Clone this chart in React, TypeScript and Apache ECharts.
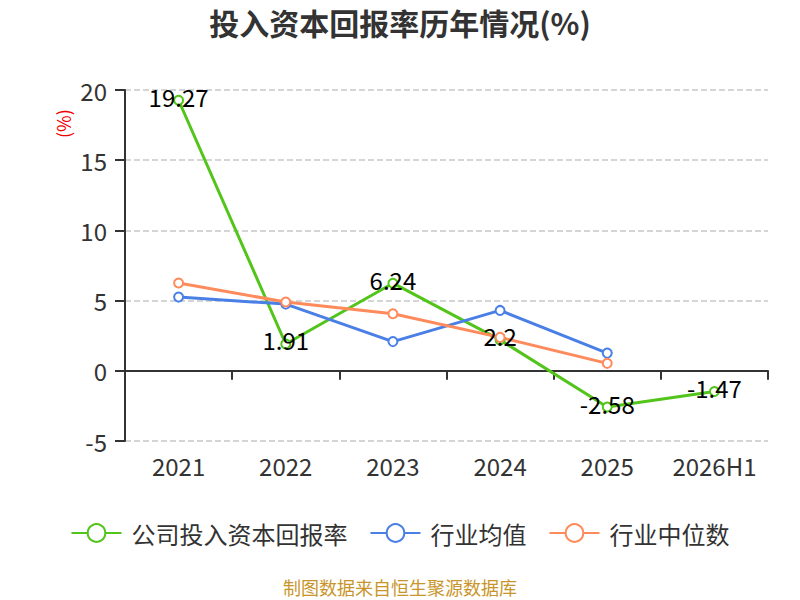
import React, { useEffect, useRef } from "react";
import * as echarts from "echarts";

const categories = ["2021", "2022", "2023", "2024", "2025", "2026H1"];
const companyValues = [19.27, 1.91, 6.24, 2.2, -2.58, -1.47];
const industryAvg = [5.25, 4.75, 2.08, 4.3, 1.26, null];
const industryMedian = [6.25, 4.9, 4.06, 2.38, 0.53, null];

const GREEN = "#52c41a";
const BLUE = "#4a7fe5";
const ORANGE = "#ff8a5b";
const FONT = "'Noto Sans CJK SC', 'Noto Sans', sans-serif";

export default function App() {
  const ref = useRef<HTMLDivElement>(null);
  useEffect(() => {
    if (!ref.current) return;
    const chart = echarts.init(ref.current, undefined, { renderer: "svg" });
    const mkSeries = (name: string, data: any[], color: string, label: boolean) => ({
      name,
      type: "line",
      data,
      symbol: "emptyCircle",
      symbolSize: 9,
      lineStyle: { width: 3, color },
      itemStyle: { color, borderWidth: 2 },
      label: label
        ? {
            show: true,
            position: "inside",
            offset: [0, -4],
            color: "#000",
            fontSize: 24,
            fontFamily: FONT,
          }
        : { show: false },
    });
    chart.setOption({
      animation: false,
      textStyle: { fontFamily: FONT },
      title: {
        text: "投入资本回报率历年情况(%)",
        left: "center",
        top: 2,
        textStyle: { fontSize: 30, fontWeight: "bold", color: "#333", fontFamily: FONT },
      },
      grid: { left: 125, right: 32, top: 90, bottom: 159 },
      legend: {
        bottom: 50,
        left: "center",
        itemWidth: 50,
        itemHeight: 22,
        itemGap: 22,
        textStyle: { fontSize: 24, color: "#333", fontFamily: FONT, padding: [0, 0, 0, 5] },
        data: ["公司投入资本回报率", "行业均值", "行业中位数"],
      },
      xAxis: {
        type: "category",
        data: categories,
        boundaryGap: true,
        axisLine: { onZero: true, lineStyle: { color: "#333", width: 2 } },
        axisTick: { show: true, interval: 0, length: 9, lineStyle: { color: "#333", width: 2 } },
        axisLabel: { interval: 0, fontSize: 24, color: "#333", margin: 12, fontFamily: FONT },
      },
      yAxis: {
        type: "value",
        min: -5,
        max: 20,
        interval: 5,
        axisLine: { show: true, lineStyle: { color: "#333", width: 2 } },
        axisTick: { show: true, length: 10, lineStyle: { color: "#333", width: 2 } },
        axisLabel: { fontSize: 24, color: "#333", margin: 18, fontFamily: FONT },
        splitLine: { lineStyle: { type: "dashed", color: "#c8c8c8", width: 1.5 } },
      },
      graphic: [
        {
          type: "text",
          x: 54,
          y: 138,
          rotation: Math.PI / 2,
          style: { text: "(%)", fill: "#e00", fontSize: 18, fontFamily: FONT },
        },
        {
          type: "text",
          left: "center",
          top: 578,
          style: { text: "制图数据来自恒生聚源数据库", fill: "#c8952a", fontSize: 18, fontFamily: FONT },
        },
      ],
      series: [
        mkSeries("公司投入资本回报率", companyValues, GREEN, true),
        mkSeries("行业均值", industryAvg, BLUE, false),
        mkSeries("行业中位数", industryMedian, ORANGE, false),
      ],
    });
    return () => chart.dispose();
  }, []);
  return (
    <div
      ref={ref}
      style={{ position: "absolute", left: 0, top: 0, width: 800, height: 600, overflow: "hidden" }}
    />
  );
}
